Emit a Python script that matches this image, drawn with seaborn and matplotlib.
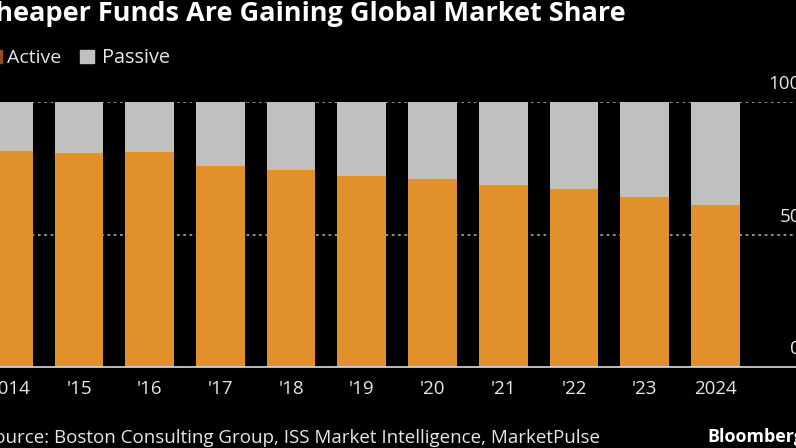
import matplotlib
matplotlib.use("Agg")
import matplotlib.pyplot as plt
import seaborn as sns
import pandas as pd
from matplotlib.patches import Rectangle

years = ['2014', "'15", "'16", "'17", "'18", "'19", "'20", "'21", "'22", "'23", '2024']
active = [81.5, 80.6, 81.2, 76.0, 74.5, 71.9, 70.9, 68.7, 67.1, 64.2, 61.1]
passive = [round(100 - a, 1) for a in active]
yticks = [0, 50, 100]

ORANGE = '#E0912C'
GRAY = '#C0C0C0'
TXT = '#E6E6E6'

sns.set_style('dark')
plt.rcParams['font.family'] = ['Open Sans', 'DejaVu Sans']

W, H = 796, 448
fig = plt.figure(figsize=(W / 100, H / 100), dpi=100, facecolor='black')
ax = fig.add_axes([0, 81 / H, 1, (367 - 102) / H])
ax.set_facecolor('black')

df = pd.DataFrame({'year': years, 'active': active, 'passive': passive})
df['total'] = df['active'] + df['passive']

for v in [50, 100]:
    ax.axhline(v, color='#9A9A9A', lw=1.3, ls=(0, (1.5, 2)), zorder=0)

sns.barplot(data=df, x='year', y='total', order=years, color=GRAY, width=0.69,
            saturation=1, ax=ax, zorder=2)
sns.barplot(data=df, x='year', y='active', order=years, color=ORANGE, width=0.69,
            saturation=1, ax=ax, zorder=3)
for p in ax.patches:
    p.set_edgecolor('none')
    p.set_linewidth(0)

ax.axhline(0, color='#DDDDDD', lw=1.2, zorder=4, clip_on=False)

ax.set_xlim(-8.3 / 70.7, (W - 8.3) / 70.7)
ax.set_ylim(0, 100)
ax.set_xlabel('')
ax.set_ylabel('')
ax.set_yticks([])
ax.grid(False)
for s in ax.spines.values():
    s.set_visible(False)
ax.tick_params(axis='x', length=0, pad=9, labelsize=13.5, labelcolor=TXT)

# right-side y labels
tr = ax.get_yaxis_transform()
for v in yticks:
    ax.annotate(str(v), xy=(1.006, v), xycoords=tr, xytext=(0, 9),
                textcoords='offset pixels', ha='right', va='bottom',
                fontsize=13.5, color=TXT, annotation_clip=False)

# title
fig.text(626 / W, 1 - 21 / H, 'Cheaper Funds Are Gaining Global Market Share',
         ha='right', va='baseline', fontsize=19.5, fontweight='bold', color='white')

# legend
fig.patches.append(Rectangle((-12 / W, 1 - 63 / H), 14 / W, 13 / H,
                             transform=fig.transFigure, color='#9A4A22'))
fig.text(7 / W, 1 - 63 / H, 'Active', ha='left', va='baseline', fontsize=14, color=TXT)
fig.patches.append(Rectangle((80 / W, 1 - 63 / H), 14 / W, 13 / H,
                             transform=fig.transFigure, color=GRAY))
fig.text(102 / W, 1 - 63 / H, 'Passive', ha='left', va='baseline', fontsize=14.3, color=TXT)

# source
fig.text(600 / W, 1 - 443 / H,
         'Source: Boston Consulting Group, ISS Market Intelligence, MarketPulse',
         ha='right', va='baseline', fontsize=13.5, color=TXT)
fig.text(707 / W, 1 - 442 / H, 'Bloomberg', ha='left', va='baseline',
         fontsize=12.9, fontweight='bold', color='white')

fig.savefig('out.png', dpi=100, facecolor='black')
